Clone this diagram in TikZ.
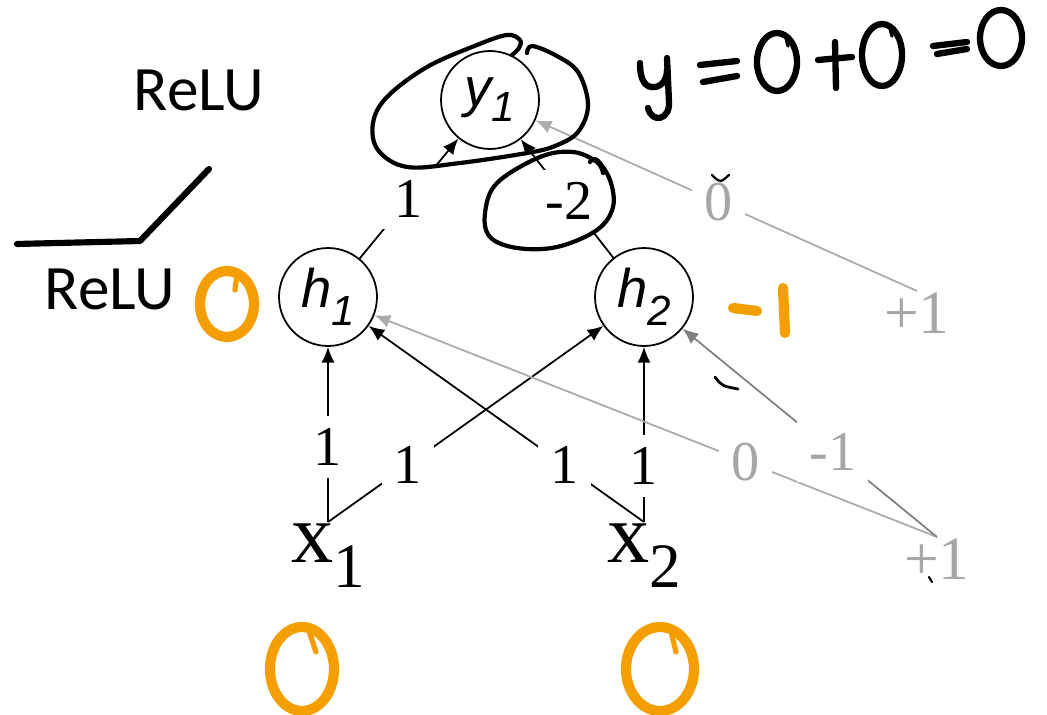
\documentclass[tikz,border=0pt]{standalone}
\usepackage{fontspec}
\setmainfont{Liberation Serif}
\newfontfamily\nodefont{Liberation Sans}
\newfontfamily\notefont{Carlito}
\usetikzlibrary{arrows.meta}

\definecolor{biasgray}{HTML}{ABABAB}
\definecolor{biasdark}{HTML}{808080}
\definecolor{biastext}{HTML}{A6A6A6}
\definecolor{penorange}{HTML}{F59E00}

% lowered index in a given size
\newcommand\lowsub[3]{\raisebox{-#2}{\fontsize{#1}{#1}\selectfont #3}}

\begin{document}
\begin{tikzpicture}[
  x=0.02cm, y=-0.02cm,
  >={Latex[length=9pt,width=7.5pt]},
  neuron/.style = {
    draw,
    circle,
    line width=1pt,
    minimum size=1.96cm,
    inner sep=0pt,
    font=\nodefont\itshape\fontsize{31}{31}\selectfont
  },
  input/.style = {
    anchor=north,
    inner sep=1pt,
    font=\fontsize{48}{48}\selectfont
  },
  bias/.style = {
    anchor=north,
    inner sep=1pt,
    text=biastext,
    font=\fontsize{35}{35}\selectfont
  },
  wlabel/.style = {
    fill=white,
    inner sep=7pt,
    font=\fontsize{32}{32}\selectfont
  },
  act/.style = {
    font=\notefont\fontsize{36}{36}\selectfont
  },
  weight/.style = {->, line width=1pt},
  biasline/.style = {->, line width=1pt, draw=biasgray},
  pen/.style = {line width=2.4pt, line cap=round, line join=round},
  orangepen/.style = {draw=penorange, line width=5.8pt, line cap=round},
]
  \useasboundingbox (0,0) rectangle (1047,715);

  % network
  \node (y1)[neuron] at (490,100) {y\lowsub{24}{8.5pt}{1}};
  \node (h1)[neuron] at (328,297) {h\lowsub{24}{10pt}{1}};
  \node (h2)[neuron] at (644,297) {h\lowsub{24}{10pt}{2}};
  \node (x1)[input] at (328,522) {x\lowsub{36}{14pt}{1}};
  \node (x2)[input] at (644,522) {x\lowsub{36}{14pt}{2}};
  \node (b1)[bias] at (917,291) {+1};
  \node (b2)[bias] at (937,537) {+1};

  \node (relutop)[act] at (199,90) {ReLU};
  \node (relumid)[act] at (110,289) {ReLU};

  \draw[weight] (x1.north) -- (h1) node[wlabel,pos=0.43] {1};
  \draw[weight] (x1.north) -- (h2) node[wlabel,pos=0.29] {1};
  \draw[weight] (x2.north) -- (h1) node[wlabel,pos=0.29] {1};
  \draw[weight] (x2.north) -- (h2) node[wlabel,pos=0.32] {1};
  \draw[biasline] (b2.north) -- (h1) node[wlabel,text=biastext,pos=0.34] {0};
  \draw[biasline,draw=biasdark] (b2.north) -- (h2) node[wlabel,text=biastext,pos=0.41] {-1};
  \draw[weight] (h1) -- (y1) node[wlabel,pos=0.5] {1};
  \draw[weight] (h2) -- (y1) node[wlabel,pos=0.48] {-2};
  \draw[biasline] (b1.north) -- (y1) node[wlabel,text=biastext,pos=0.52] {0};

  % pen notes
  \draw[pen,line width=3.5pt] (17,244) -- (140,241) -- (209,169);
  \draw[pen,line width=2.4pt] plot[smooth,tension=0.6] coordinates {
    (527,53) (532,46) (555,55) (578,72) (588,105) (578,132) (555,146)
    (527,153) (460,163) (407,167) (378,150) (373,123) (387,97) (427,67)
    (477,45) (507,35) (520,40) (519,48) (512,55)};
  \draw[pen,line width=2.4pt] plot[smooth,tension=0.6] coordinates {
    (590,162) (597,160) (610,180) (613,207) (597,230) (557,247) (517,248)
    (490,237) (485,213) (497,183) (540,157) (573,152) (597,162) (603,173)};
  \draw[pen,line width=1.6pt] (715,377) .. controls (722,386) .. (738,389);
  \draw[pen,line width=1.3pt] (712,175) .. controls (720,183) .. (729,175);
  \draw[pen,line width=1.2pt] (929,577) -- (932,582);

  % y = 0 + 0 = 0
  \draw[pen,line width=3.6pt] (640,63) .. controls (640,82) and (646,88) .. (655,87)
    .. controls (663,86) and (667,78) .. (667,70);
  \draw[pen,line width=3.6pt] (667,58) -- (669,102) .. controls (670,120) and (652,124) .. (648,108);
  \draw[pen,line width=3.6pt] (700,65) -- (737,61);
  \draw[pen,line width=3.6pt] (703,82) -- (737,76);
  \draw[pen,line width=3.6pt] (777,62) ellipse [x radius=20, y radius=29];
  \draw[pen,line width=2pt] (786,37) -- (788,46);
  \draw[pen,line width=3.6pt] (835,42) -- (836,88);
  \draw[pen,line width=3.6pt] (818,60) -- (852,57);
  \draw[pen,line width=3.6pt] (882,55) ellipse [x radius=20, y radius=31];
  \draw[pen,line width=2pt] (890,28) -- (892,36);
  \draw[pen,line width=3.6pt] (933,46) -- (967,42);
  \draw[pen,line width=3.6pt] (937,54) -- (967,49);
  \draw[pen,line width=3.6pt] (1001,38) ellipse [x radius=21, y radius=28];

  % orange values
  \draw[orangepen] (227,304) ellipse [x radius=27, y radius=33];
  \draw[orangepen,line width=3pt] (237,274) -- (235,290);
  \draw[orangepen] (733,308) -- (757,311);
  \draw[orangepen] (783,288) -- (785,333);
  \draw[orangepen] (302,669) ellipse [x radius=32, y radius=42];
  \draw[orangepen,line width=3pt] (308,628) -- (316,652);
  \draw[orangepen] (660,669) ellipse [x radius=34, y radius=42];
  \draw[orangepen,line width=3pt] (671,631) -- (676,652);
\end{tikzpicture}
\end{document}
